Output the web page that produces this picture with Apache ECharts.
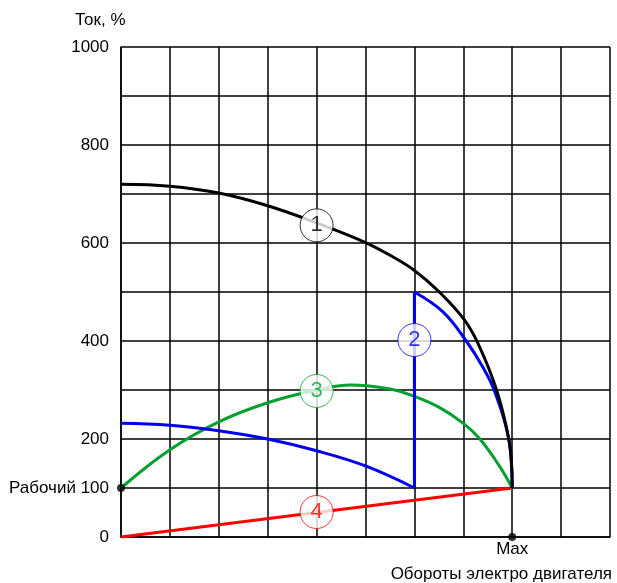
<!DOCTYPE html>
<html><head><meta charset="utf-8">
<script src="https://cdn.jsdelivr.net/npm/echarts@6/dist/echarts.min.js"></script>
<style>html,body{margin:0;padding:0;background:#fff}#c{width:617px;height:583px}</style>
</head><body><div id="c"></div>
<script>
const yTickLabels = {0:'0',100:'Рабочий 100',200:'200',400:'400',600:'600',800:'800',1000:'1000'};
const xTickLabels = {8:'Max'};
const curve1 = [[0,720],[1,716],[2,702],[3,676],[4,641],[5,601],[5.5,575],[6,544],[6.5,501],[7,446],[7.3,395],[7.68,300],[7.93,200],[7.99,140],[8,100]];
const curve2a = [[0,232],[1,228],[2,217],[3,200],[4,176],[5,145],[6,100]];
const curve2b = [[6,100],[6,500]];
const curve2c = [[6,500],[6.59,459],[7.06,400],[7.38,350],[7.63,300],[7.93,200],[8,100]];
const curve3 = [[0,100],[1,178],[2,235],[3,274],[4,300],[4.7,310],[5.5,302],[6,287],[6.5,265],[7,232],[7.34,200],[7.75,143],[8,100]];
const curve4 = [[0,0],[8,100]];
const dots = [[0,100],[8,0]];
const badges = [
  {name:'1', value:[4,636], color:'#000'},
  {name:'2', value:[6,402], color:'#0000ee'},
  {name:'3', value:[4,298], color:'#00a030'},
  {name:'4', value:[4,51], color:'#ff0000'}
];
const C1='#000', C2='#0000ee', C3='#00a030', C4='#ff0000';
const FONT='Liberation Sans, Arial, sans-serif';
const chart = echarts.init(document.getElementById('c'));
function line(data, color, smooth){
  return {type:'line', data, smooth, symbol:'none', lineStyle:{color, width:3}, z:3, silent:true, animation:false};
}
chart.setOption({
  animation:false,
  grid:{left:121, top:47, right:7, bottom:46, containLabel:false},
  xAxis:{type:'value', min:0, max:10, interval:1,
    axisLine:{show:true, lineStyle:{color:'#000', width:1.5}},
    axisTick:{show:false},
    splitLine:{show:true, lineStyle:{color:'#000', width:1.5}},
    axisLabel:{color:'#000', fontSize:17, fontFamily:FONT, margin:4, formatter:v=>xTickLabels[v]||''}
  },
  yAxis:{type:'value', min:0, max:1000, interval:100,
    axisLine:{show:true, lineStyle:{color:'#000', width:1.5}},
    axisTick:{show:false},
    splitLine:{show:true, lineStyle:{color:'#000', width:1.5}},
    axisLabel:{color:'#000', fontSize:17, fontFamily:FONT, margin:12, formatter:v=>yTickLabels[v]||''}
  },
  graphic:[
    {type:'text', left:75, top:12, style:{text:'Ток, %', fill:'#000', font:'17px '+FONT}},
    {type:'text', right:5, top:566, style:{text:'Обороты электро двигателя', fill:'#000', font:'17px '+FONT}}
  ],
  series:[
    line(curve4, C4, false),
    line(curve3, C3, 0.4),
    line(curve2a, C2, 0.4),
    line(curve2b, C2, false),
    line(curve2c, C2, 0.4),
    line(curve1, C1, 0.4),
    {type:'scatter', data:dots, symbolSize:8, itemStyle:{color:'#000'}, z:5, silent:true},
    {type:'scatter', z:6, silent:true, symbolSize:33,
      data:badges.map(b=>({name:b.name, value:b.value,
        itemStyle:{color:'#fff', borderColor:b.color, borderWidth:1},
        label:{show:true, position:'inside', formatter:b.name, color:b.color, fontSize:22, fontFamily:FONT}}))
    }
  ]
});
</script></body></html>
